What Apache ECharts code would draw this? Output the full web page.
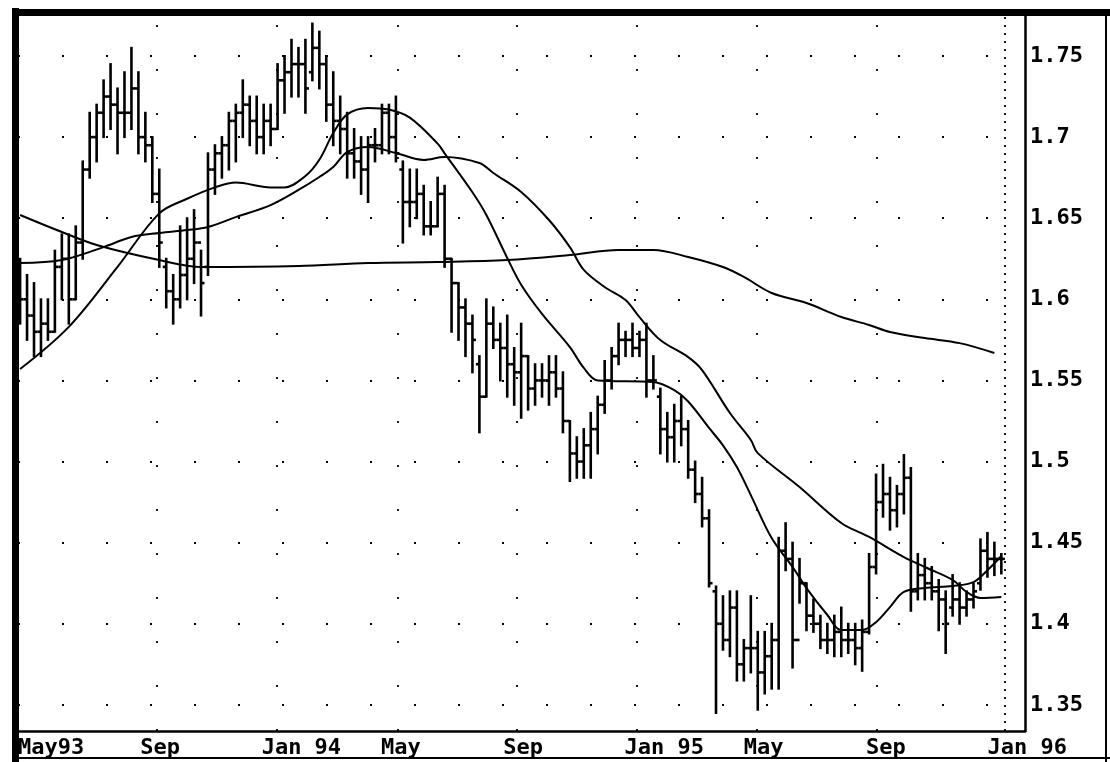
<!DOCTYPE html>
<html>
<head>
<meta charset="utf-8">
<title>Weekly bars 1993-1996</title>
<script src="https://cdn.jsdelivr.net/npm/echarts/dist/echarts.min.js"></script>
<style>
  html, body { margin: 0; padding: 0; background: #fff; }
  #chart { width: 1110px; height: 762px; }
</style>
</head>
<body>
<div id="chart"></div>
<script>
// Weekly price bars, one entry per week starting at the beginning of May 1993.
const opens = [
  1.615,1.600,1.590,1.580,1.585,1.580,1.620,1.625,1.600,1.635,
  1.680,1.700,1.715,1.725,1.720,1.715,1.715,1.730,1.700,1.695,
  1.665,1.620,1.605,1.600,1.615,1.625,1.635,1.620,1.680,1.690,
  1.695,1.710,1.715,1.720,1.710,1.700,1.710,1.705,1.735,1.740,
  1.745,1.745,1.740,1.755,1.745,1.720,1.710,1.705,1.690,1.685,
  1.680,1.695,1.695,1.715,1.700,1.680,1.660,1.660,1.665,1.645,
  1.645,1.665,1.625,1.610,1.595,1.585,1.560,1.540,1.585,1.575,
  1.570,1.560,1.555,1.565,1.545,1.550,1.550,1.555,1.545,1.525,
  1.505,1.500,1.510,1.520,1.535,1.550,1.565,1.575,1.575,1.570,
  1.575,1.550,1.540,1.520,1.515,1.525,1.520,1.495,1.480,1.465,
  1.420,1.400,1.390,1.410,1.375,1.385,1.385,1.370,1.380,1.390,
  1.445,1.440,1.390,1.425,1.405,1.400,1.390,1.390,1.395,1.390,
  1.390,1.385,1.395,1.435,1.475,1.480,1.470,1.480,1.490,1.420,
  1.430,1.425,1.420,1.415,1.410,1.415,1.410,1.415,1.425,1.445,
  1.440,1.440
];
const highs = [
  1.625,1.615,1.610,1.600,1.600,1.630,1.640,1.640,1.645,1.685,
  1.715,1.720,1.735,1.745,1.730,1.740,1.755,1.740,1.715,1.700,
  1.680,1.625,1.615,1.645,1.650,1.655,1.630,1.690,1.695,1.700,
  1.715,1.720,1.735,1.725,1.725,1.720,1.720,1.745,1.750,1.760,
  1.755,1.760,1.770,1.765,1.750,1.740,1.725,1.715,1.705,1.700,
  1.700,1.705,1.720,1.720,1.725,1.685,1.680,1.680,1.670,1.660,
  1.675,1.670,1.625,1.610,1.600,1.590,1.565,1.600,1.595,1.585,
  1.590,1.570,1.585,1.565,1.560,1.560,1.565,1.565,1.555,1.525,
  1.515,1.520,1.530,1.540,1.562,1.570,1.585,1.580,1.585,1.580,
  1.585,1.565,1.545,1.530,1.535,1.540,1.525,1.500,1.490,1.470,
  1.423,1.417,1.420,1.420,1.390,1.417,1.395,1.395,1.400,1.453,
  1.462,1.450,1.440,1.425,1.415,1.405,1.400,1.405,1.410,1.400,
  1.400,1.402,1.443,1.492,1.498,1.490,1.485,1.504,1.496,1.443,
  1.440,1.435,1.427,1.420,1.430,1.425,1.420,1.425,1.452,1.456,
  1.450,1.443
];
const lows = [
  1.585,1.575,1.565,1.565,1.575,1.580,1.600,1.585,1.600,1.625,
  1.675,1.685,1.700,1.705,1.690,1.700,1.705,1.690,1.685,1.660,
  1.620,1.595,1.585,1.595,1.600,1.610,1.590,1.615,1.665,1.675,
  1.680,1.685,1.700,1.695,1.690,1.690,1.695,1.705,1.715,1.725,
  1.725,1.715,1.735,1.730,1.710,1.695,1.690,1.675,1.675,1.665,
  1.660,1.685,1.690,1.690,1.685,1.635,1.645,1.650,1.640,1.640,
  1.645,1.620,1.580,1.575,1.565,1.555,1.518,1.540,1.570,1.550,
  1.540,1.535,1.527,1.532,1.535,1.540,1.535,1.540,1.518,1.488,
  1.490,1.490,1.490,1.505,1.530,1.545,1.560,1.565,1.565,1.565,
  1.540,1.545,1.505,1.500,1.500,1.510,1.490,1.475,1.460,1.423,
  1.345,1.384,1.380,1.365,1.365,1.370,1.347,1.357,1.360,1.360,
  1.433,1.373,1.413,1.396,1.395,1.385,1.382,1.380,1.380,1.382,
  1.375,1.371,1.394,1.431,1.466,1.458,1.460,1.468,1.408,1.415,
  1.415,1.415,1.396,1.382,1.405,1.400,1.405,1.410,1.421,1.429,
  1.430,1.431
];
const closes = [
  1.600,1.590,1.580,1.585,1.580,1.620,1.625,1.600,1.635,1.680,
  1.700,1.715,1.725,1.720,1.715,1.715,1.730,1.700,1.695,1.665,
  1.635,1.605,1.600,1.615,1.625,1.635,1.610,1.680,1.690,1.695,
  1.710,1.715,1.720,1.710,1.700,1.710,1.705,1.735,1.740,1.745,
  1.745,1.730,1.755,1.745,1.720,1.710,1.705,1.690,1.685,1.680,
  1.695,1.695,1.715,1.700,1.690,1.660,1.660,1.665,1.645,1.645,
  1.665,1.625,1.610,1.595,1.585,1.575,1.540,1.585,1.575,1.570,
  1.560,1.555,1.565,1.545,1.550,1.550,1.555,1.545,1.525,1.505,
  1.500,1.510,1.520,1.535,1.550,1.565,1.575,1.575,1.570,1.575,
  1.550,1.550,1.520,1.515,1.525,1.520,1.495,1.480,1.465,1.425,
  1.400,1.390,1.410,1.375,1.385,1.385,1.370,1.380,1.390,1.445,
  1.440,1.390,1.425,1.405,1.400,1.390,1.390,1.395,1.390,1.390,
  1.385,1.395,1.435,1.475,1.480,1.470,1.480,1.490,1.420,1.430,
  1.425,1.420,1.415,1.400,1.415,1.410,1.415,1.420,1.445,1.440,
  1.440,1.440
];

// Moving averages: [week index, value]
const maFast = [
  [0,1.557],[7,1.583],[14,1.620],[20,1.653],[24,1.662],[28,1.669],[31,1.672],
  [36,1.669],[38,1.669],[41,1.676],[43,1.686],[45,1.7025],[47,1.714],[50,1.718],
  [53,1.717],[56,1.712],[60,1.696],[61,1.690],[65,1.666],[67,1.652],[70,1.6255],
  [72,1.609],[75,1.591],[79,1.5706],[81,1.5577],[83,1.550],[91,1.549],[94,1.544],
  [96,1.537],[99,1.5207],[101,1.510],[103,1.4966],[105,1.4793],[108,1.4528],
  [111,1.435],[113,1.422],[116,1.4054],[118,1.3961],[121,1.3961],[123,1.401],
  [125,1.4103],[127,1.4196],[130,1.422],[134,1.4233],[137,1.4257],[139,1.433],[141,1.4418]
];
const maMid = [
  [0,1.6224],[6,1.6242],[12,1.6322],[16,1.6384],[20,1.6409],[24,1.6427],[27,1.6446],
  [31,1.6507],[36,1.6581],[40,1.6674],[43,1.6754],[45,1.6816],[47,1.6908],[50,1.6939],
  [54,1.6902],[58,1.6859],[61,1.6877],[66,1.684],[68,1.6779],[72,1.6662],[76,1.6489],
  [79,1.6322],[81,1.6181],[84,1.6076],[87,1.5996],[89,1.589],[92,1.5749],[96,1.5644],
  [98,1.5564],[102,1.5299],[105,1.5133],[106,1.5052],[112,1.4843],[118,1.4621],
  [122,1.4535],[127,1.4411],[130,1.435],[134,1.427],[136,1.4196],[138,1.4159],[141,1.4165]
];
const maSlow = [
  [0,1.652],[6,1.6415],[11,1.6335],[20,1.6242],[26,1.6199],[40,1.6205],[50,1.6224],
  [60,1.623],[70,1.6242],[79,1.6273],[86,1.6304],[91,1.6304],[96,1.6261],[101,1.6199],
  [104,1.6138],[108,1.6039],[113,1.5977],[118,1.5891],[122,1.5842],[125,1.5798],
  [130,1.5761],[135,1.573],[140,1.5669]
];

// Axis labelling
const priceTicks = [1.35, 1.4, 1.45, 1.5, 1.55, 1.6, 1.65, 1.7, 1.75];
const monthTicks = [-0.29, 17.28, 34.71, 51.85, 69.42, 86.85, 104.0, 121.57, 139.0];
const monthLabels = ['May93', 'Sep', 'Jan 94', 'May', 'Sep', 'Jan 95', 'May', 'Sep', 'Jan 96'];
const gridWeeks = [19.7, 36.9, 54.2, 71.4, 88.6, 105.9, 123.1];
const lastWeekMarker = 141.5;

const bars = opens.map((o, i) => [i, o, closes[i], lows[i], highs[i]]);

const ink = '#000';
const labelFont = {
  fontFamily: 'DejaVu Sans Mono',
  fontWeight: 'bold',
  fontSize: 22,
  color: ink
};
const gridDots = { type: [2, 42], color: ink, width: 1.8 };

const chart = echarts.init(document.getElementById('chart'), null, { renderer: 'canvas' });

const maLine = (data) => ({
  type: 'line',
  data: data,
  smooth: 0.35,
  showSymbol: false,
  silent: true,
  lineStyle: { color: ink, width: 2 },
  z: 3
});

chart.setOption({
  animation: false,
  backgroundColor: '#fff',
  grid: { left: 18, top: 13, width: 1007, height: 718, show: false },
  xAxis: {
    type: 'value',
    min: -0.3,
    max: 144.4,
    axisLine: { show: true, onZero: false, lineStyle: { color: ink, width: 2.5 } },
    axisTick: { show: false },
    splitLine: { show: false },
    axisLabel: Object.assign({
      customValues: monthTicks,
      align: 'left',
      margin: 6,
      formatter: (v) => monthLabels[monthTicks.indexOf(v)] || ''
    }, labelFont)
  },
  yAxis: {
    type: 'value',
    position: 'right',
    min: 1.3339,
    max: 1.7765,
    axisLine: { show: true, onZero: false, lineStyle: { color: ink, width: 2.5 } },
    axisTick: { show: false },
    splitLine: { show: false },
    axisLabel: Object.assign({
      customValues: priceTicks,
      margin: 5,
      formatter: (v) => String(+v.toFixed(2))
    }, labelFont)
  },
  series: [
    {
      // dotted grid
      type: 'line',
      data: [],
      silent: true,
      z: 1,
      markLine: {
        silent: true,
        symbol: 'none',
        label: { show: false },
        lineStyle: gridDots,
        data: priceTicks.map(v => ({ yAxis: v }))
          .concat(gridWeeks.map(w => ({ xAxis: w })))
          .concat([{ xAxis: lastWeekMarker, lineStyle: { type: [2, 6], color: ink, width: 1.8 } }])
      }
    },
    maLine(maSlow),
    maLine(maMid),
    maLine(maFast),
    {
      type: 'custom',
      data: bars,
      encode: { x: 0, y: [1, 2, 3, 4] },
      z: 4,
      renderItem: (params, api) => {
        const i = api.value(0);
        const o = api.coord([i, api.value(1)]);
        const c = api.coord([i, api.value(2)]);
        const l = api.coord([i, api.value(3)]);
        const h = api.coord([i, api.value(4)]);
        const t = 3.5;
        const style = { stroke: ink, lineWidth: 2.6 };
        return {
          type: 'group',
          children: [
            { type: 'line', shape: { x1: h[0], y1: h[1] - 1, x2: l[0], y2: l[1] + 1 }, style },
            { type: 'line', shape: { x1: o[0] - t, y1: o[1], x2: o[0], y2: o[1] }, style },
            { type: 'line', shape: { x1: c[0], y1: c[1], x2: c[0] + t, y2: c[1] }, style }
          ]
        };
      }
    }
  ],
  graphic: [
    // outer frame
    { type: 'rect', z: 100, shape: { x: 12, y: 8, width: 7, height: 754 }, style: { fill: ink } },
    { type: 'rect', z: 100, shape: { x: 12, y: 9, width: 1098, height: 7 }, style: { fill: ink } },
    { type: 'rect', z: 100, shape: { x: 1105, y: 9, width: 2, height: 753 }, style: { fill: ink } },
    { type: 'rect', z: 100, shape: { x: 12, y: 757, width: 1098, height: 2 }, style: { fill: ink } }
  ]
});
</script>
</body>
</html>
